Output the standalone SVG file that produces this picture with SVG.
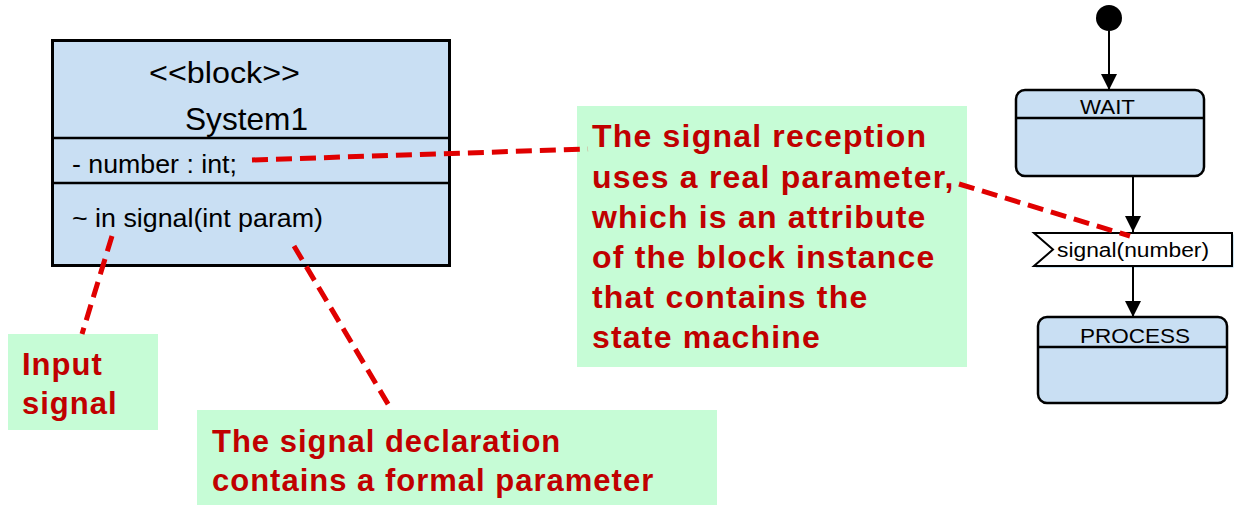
<svg xmlns="http://www.w3.org/2000/svg" width="1234" height="513" viewBox="0 0 1234 513">
<defs>
<style>
.blk{fill:#c9dff3;stroke:#000;stroke-width:3}
.sep{stroke:#000;stroke-width:2.5;fill:none}
.t{font-family:"Liberation Sans",Arial,sans-serif;fill:#000}
.note{fill:#c6fcd6}
.nt{font-family:"Liberation Sans",Arial,sans-serif;font-weight:bold;fill:#c00000;font-size:31px;letter-spacing:1px}
.nb{font-size:32px;letter-spacing:1.2px}
.dash{stroke:#e00000;stroke-width:5;stroke-dasharray:16 8;fill:none}
.st{fill:#c9dff3;stroke:#000;stroke-width:2.5}
.tr{stroke:#000;stroke-width:2;fill:none}
</style>
<marker id="ah" viewBox="0 0 16 16" refX="16" refY="8" markerWidth="16" markerHeight="16" markerUnits="userSpaceOnUse" orient="auto">
<path d="M0,0 L16,8 L0,16 Z" fill="#000"/>
</marker>
</defs>
<rect width="1234" height="513" fill="#fff"/>

<g id="block">
<rect class="blk" x="52.5" y="40.5" width="397" height="225"/>
<line class="sep" x1="52" y1="138" x2="450" y2="138"/>
<line class="sep" x1="52" y1="183" x2="450" y2="183"/>
<text class="t" x="149" y="83" font-size="30" textLength="151" lengthAdjust="spacingAndGlyphs">&lt;&lt;block&gt;&gt;</text>
<text class="t" x="185" y="130" font-size="32" textLength="123" lengthAdjust="spacingAndGlyphs">System1</text>
<text class="t" x="72" y="173" font-size="26" textLength="165" lengthAdjust="spacingAndGlyphs">- number : int;</text>
<text class="t" x="72" y="227" font-size="26" textLength="251" lengthAdjust="spacingAndGlyphs">~ in signal(int param)</text>
</g>

<g id="note-input">
<rect class="note" x="8" y="334" width="150" height="96"/>
<text class="nt" x="22" y="375">Input</text>
<text class="nt" x="22" y="414">signal</text>
</g>

<g id="note-decl">
<rect class="note" x="197" y="410" width="520" height="95"/>
<text class="nt" x="212" y="452">The signal declaration</text>
<text class="nt" x="212" y="491">contains a formal parameter</text>
</g>

<g id="note-recv">
<rect class="note" x="577" y="106" width="390" height="261"/>
<text class="nt nb" x="592" y="147">The signal reception</text>
<text class="nt nb" x="592" y="188">uses a real parameter,</text>
<text class="nt nb" x="592" y="228">which is an attribute</text>
<text class="nt nb" x="592" y="268">of the block instance</text>
<text class="nt nb" x="592" y="308">that contains the</text>
<text class="nt nb" x="592" y="348">state machine</text>
</g>

<g id="initial">
<circle cx="1109" cy="18" r="13" fill="#000"/>
</g>

<g id="wait">
<rect class="st" x="1016" y="90" width="188" height="86" rx="9"/>
<line class="sep" x1="1016" y1="118" x2="1204" y2="118"/>
<text class="t" x="1080" y="114" font-size="21" textLength="55" lengthAdjust="spacingAndGlyphs">WAIT</text>
</g>

<g id="signal">
<polygon points="1035.5,234.5 1233.5,234.5 1233.5,267.5 1035.5,267.5 1054.5,251" fill="#9ccbe8"/>
<polygon points="1034,233 1232,233 1232,266 1034,266 1053,249.5" fill="#fff" stroke="#000" stroke-width="2"/>
<text class="t" x="1057" y="257" font-size="20" textLength="152" lengthAdjust="spacingAndGlyphs">signal(number)</text>
</g>

<g id="process">
<rect class="st" x="1038" y="317" width="189" height="86" rx="9"/>
<line class="sep" x1="1038" y1="347" x2="1227" y2="347"/>
<text class="t" x="1080" y="343" font-size="21" textLength="110" lengthAdjust="spacingAndGlyphs">PROCESS</text>
</g>

<g id="connectors">
<line class="tr" x1="1109" y1="31" x2="1109" y2="90" marker-end="url(#ah)"/>
<line class="tr" x1="1133" y1="176" x2="1133" y2="232" marker-end="url(#ah)"/>
<line class="tr" x1="1133" y1="267" x2="1133" y2="317" marker-end="url(#ah)"/>
<line class="dash" x1="252" y1="160" x2="588" y2="149"/>
<line class="dash" x1="959" y1="184" x2="1130" y2="236"/>
<line class="dash" x1="112" y1="236" x2="82" y2="334"/>
<line class="dash" x1="294" y1="246" x2="391" y2="409"/>
</g>
</svg>
